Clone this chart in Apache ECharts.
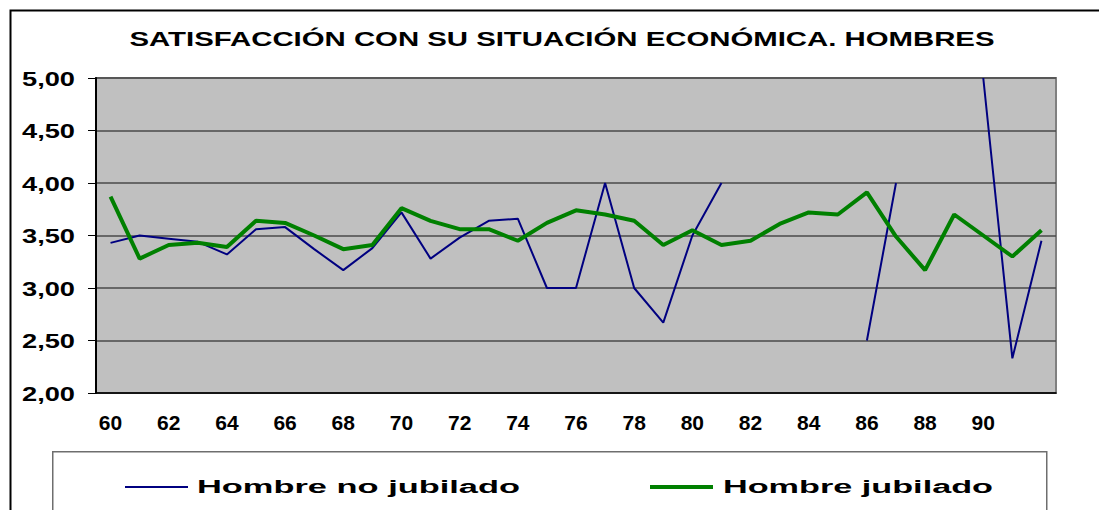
<!DOCTYPE html>
<html>
<head>
<meta charset="utf-8">
<script src="https://cdn.jsdelivr.net/npm/echarts@6/dist/echarts.min.js"></script>
<style>
    html, body { margin: 0; padding: 0; background: #fff; }
    #chart { width: 1099px; height: 510px; }
</style>
</head>
<body>
<div id="chart"></div>
<script>
// --- datos ---
const years = ['60', '61', '62', '63', '64', '65', '66', '67', '68', '69', '70', '71', '72', '73', '74', '75', '76',
    '77', '78', '79', '80', '81', '82', '83', '84', '85', '86', '87', '88', '89', '90', '91', '92'];

// Hombre no jubilado (huecos = sin dato)
const noJubilado = [3.43, 3.50, 3.47, 3.44, 3.32, 3.56, 3.58, 3.37, 3.17, 3.38, 3.72, 3.28, 3.48, 3.64, 3.66, 3.00, 3.00,
    4.00, 3.00, 2.67, 3.50, 4.00, null, null, null, null, 2.50, 4.00, null, null, 5.00, 2.33, 3.45];

// Hombre jubilado
const jubilado = [3.87, 3.28, 3.41, 3.43, 3.39, 3.64, 3.62, 3.50, 3.37, 3.41, 3.76, 3.64, 3.56, 3.56, 3.45, 3.62, 3.74,
    3.70, 3.64, 3.41, 3.55, 3.41, 3.45, 3.61, 3.72, 3.70, 3.91, 3.49, 3.17, 3.70, 3.50, 3.30, 3.55];

const seriesNames = ['Hombre no jubilado', 'Hombre jubilado'];
const titleText = 'SATISFACCIÓN CON SU SITUACIÓN ECONÓMICA. HOMBRES';

const FONT = "'Liberation Sans', Arial, sans-serif";

const chartDom = document.getElementById('chart');
const myChart = echarts.init(chartDom, null, { renderer: 'svg' });

const legendText = { fontFamily: FONT, fontSize: 18, fontWeight: 'bold', color: '#000' };

const option = {
    animation: false,
    backgroundColor: '#fff',
    title: {
        text: titleText,
        left: 557,
        top: 23,
        textAlign: 'center',
        textStyle: { fontFamily: FONT, fontSize: 21, fontWeight: 'bold', color: '#000' }
    },
    graphic: [
        // marco exterior
        { type: 'rect', left: 8, top: 8, z: -10, silent: true,
          shape: { width: 1200, height: 600 },
          style: { fill: 'none', stroke: '#000', lineWidth: 2 } },
        // caja de la leyenda
        { type: 'rect', left: 52, top: 451, z: -5, silent: true,
          shape: { width: 994, height: 100 },
          style: { fill: '#fff', stroke: '#6e6e6e', lineWidth: 1.5 } }
    ],
    legend: [
        { data: [seriesNames[0]], left: 120, top: 473, icon: 'rect', itemWidth: 63, itemHeight: 2,
          textStyle: Object.assign({ padding: [0, 0, 0, 4] }, legendText) },
        { data: [seriesNames[1]], left: 645, top: 473, icon: 'rect', itemWidth: 63, itemHeight: 4,
          textStyle: Object.assign({ padding: [0, 0, 0, 5] }, legendText) }
    ],
    grid: {
        left: 96, right: 43, top: 78, bottom: 117,
        show: true, backgroundColor: '#c0c0c0', borderColor: '#808080', borderWidth: 2
    },
    xAxis: {
        type: 'category',
        data: years,
        boundaryGap: true,
        axisLine: { lineStyle: { color: '#000', width: 1.5 } },
        axisTick: { interval: 0, length: 5, lineStyle: { color: '#000' } },
        axisLabel: {
            interval: (i) => i % 2 === 0 && i < years.length - 1,
            margin: 19,
            fontFamily: FONT, fontSize: 21, fontWeight: 'bold', color: '#000'
        }
    },
    yAxis: {
        type: 'value',
        min: 2, max: 5, interval: 0.5,
        axisLine: { show: true, lineStyle: { color: '#000', width: 2 } },
        axisTick: { show: true, length: 8, lineStyle: { color: '#000' } },
        axisLabel: {
            margin: 21,
            formatter: (v) => v.toFixed(2).replace('.', ','),
            fontFamily: FONT, fontSize: 21, fontWeight: 'bold', color: '#000'
        },
        splitLine: { lineStyle: { color: '#4a4a4a', width: 1.5 } }
    },
    series: [
        { name: seriesNames[0], type: 'line', data: noJubilado, symbol: 'none',
          connectNulls: false,
          lineStyle: { color: '#000080', width: 2 }, itemStyle: { color: '#000080' } },
        { name: seriesNames[1], type: 'line', data: jubilado, symbol: 'none',
          lineStyle: { color: '#008000', width: 4 }, itemStyle: { color: '#008000' } }
    ]
};
myChart.setOption(option);

// los textos del original son más anchos que Arial: se estiran a su ancho medido
const textWidths = {};
textWidths[titleText] = 865;
textWidths[seriesNames[0]] = 323;
textWidths[seriesNames[1]] = 270;

const fitTexts = () => {
    chartDom.querySelectorAll('text').forEach(t => {
        const s = t.textContent;
        let w = textWidths[s];
        if (!w && /^\d,\d\d$/.test(s)) w = 53;
        if (w) {
            t.setAttribute('textLength', w);
            t.setAttribute('lengthAdjust', 'spacingAndGlyphs');
        }
    });
};
fitTexts();
myChart.on('finished', fitTexts);
</script>
</body>
</html>
